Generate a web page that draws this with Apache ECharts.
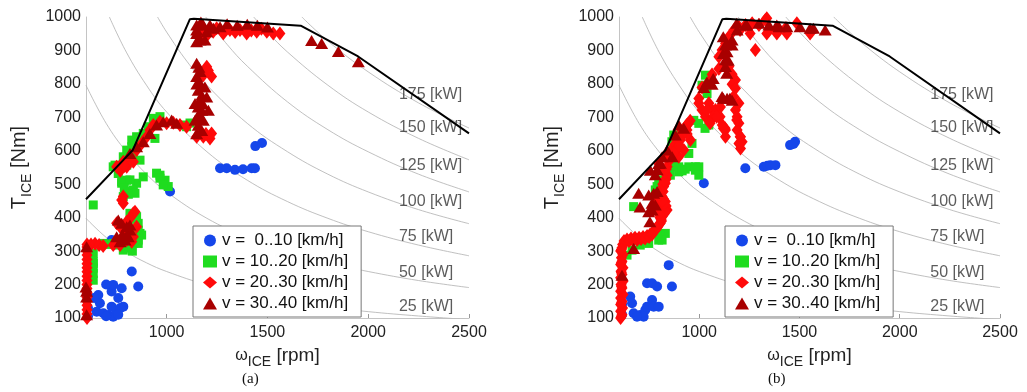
<!DOCTYPE html>
<html>
<head>
<meta charset="utf-8">
<script src="https://cdn.jsdelivr.net/npm/echarts@6/dist/echarts.min.js"></script>
<style>
  html, body { margin: 0; padding: 0; background: #fff; }
  #main { width: 1027px; height: 392px; }
</style>
</head>
<body>
<div id="main"></div>
<script>
// tick labels
var xTicks = [1000, 1500, 2000, 2500];
var seriesNames = ['v =  0..10 [km/h]', 'v = 10..20 [km/h]', 'v = 20..30 [km/h]', 'v = 30..40 [km/h]'];

// max torque curve of the engine
var maxTorque = [[600, 455], [832, 602], [1115, 993], [1135, 995], [1665, 974], [1950, 882], [2500, 652]];

// iso-power curves
var kwLevels = ['25 [kW]', '50 [kW]', '75 [kW]', '100 [kW]', '125 [kW]', '150 [kW]', '175 [kW]'];
var kwLabelNm = [133, 237, 342, 447, 557, 668, 767];
var kwLabelRpm = 2150;
var kwCurves = [
  [[600, 398], [700, 341], [800, 298], [900, 265], [1000, 239], [1200, 199], [1400, 171], [1600, 149], [1800, 133], [2000, 119], [2250, 106], [2500, 95]],
  [[600, 796], [700, 682], [800, 597], [900, 530], [1000, 477], [1200, 398], [1400, 341], [1600, 298], [1800, 265], [2000, 239], [2250, 212], [2500, 191]],
  [[716, 1000], [800, 895], [900, 796], [1000, 716], [1200, 597], [1400, 512], [1600, 448], [1800, 398], [2000, 358], [2250, 318], [2500, 286]],
  [[955, 1000], [1000, 955], [1100, 868], [1200, 796], [1400, 682], [1600, 597], [1800, 530], [2000, 477], [2250, 424], [2500, 382]],
  [[1194, 1000], [1300, 918], [1400, 853], [1600, 746], [1800, 663], [2000, 597], [2250, 530], [2500, 477]],
  [[1432, 1000], [1500, 955], [1600, 895], [1800, 796], [2000, 716], [2250, 637], [2500, 573]],
  [[1671, 1000], [1800, 928], [2000, 836], [2250, 743], [2500, 668]]
];

// (a)
var blueA = [[661, 169], [669, 144], [653, 119], [686, 114], [711, 109], [735, 104], [752, 119], [727, 134], [727, 179], [735, 199],
  [777, 189], [785, 134], [827, 239], [859, 194], [640, 160], [700, 200], [760, 160], [770, 130], [700, 105], [760, 110], [727, 333],
  [610, 105], [610, 130], [1017, 478], [1265, 548], [1298, 548], [1339, 543], [1379, 545], [1422, 548], [1438, 548], [1440, 614], [1473, 623]];
var greenA = [[636, 438], [744, 557], [802, 602], [827, 632], [851, 642], [884, 652], [942, 637], [909, 672], [934, 697], [967, 702],
  [835, 582], [868, 572], [802, 512], [777, 508], [851, 503], [827, 478], [884, 522], [785, 463], [818, 413], [851, 403], [868, 353],
  [859, 333], [835, 323], [735, 323], [686, 323], [636, 263], [636, 293], [636, 233], [636, 213], [967, 527], [992, 512], [1008, 493],
  [735, 552], [760, 532], [785, 582], [827, 612], [851, 622], [1116, 683], [1083, 677], [1099, 672], [636, 268], [636, 249], [785, 303],
  [818, 323], [859, 323], [859, 363], [859, 383], [876, 348], [843, 328], [769, 548], [802, 557], [777, 503], [818, 513], [835, 483],
  [843, 473], [950, 533], [967, 518], [983, 498], [710, 320], [760, 318], [800, 310], [830, 300], [850, 395], [810, 470], [790, 490]];
var redA = [[605, 100], [605, 112], [605, 125], [605, 138], [605, 150], [605, 162], [605, 175], [605, 188], [605, 200], [605, 212],
  [605, 225], [605, 238], [605, 250], [605, 262], [605, 275], [605, 288], [605, 300], [605, 312], [605, 320], [625, 320], [645, 322],
  [665, 318], [685, 315], [785, 463], [785, 443], [777, 453], [835, 413], [843, 418], [818, 398], [802, 388], [769, 373], [752, 383],
  [785, 363], [818, 353], [802, 333], [769, 318], [735, 318], [827, 328], [835, 343], [851, 373], [810, 373], [752, 333],
  [752, 552], [785, 567], [818, 582], [851, 602], [876, 622], [901, 642], [917, 662], [934, 677], [967, 687], [1000, 682], [1033, 684],
  [1066, 677], [1099, 672], [802, 552], [835, 567], [770, 540], [790, 555], [1149, 642], [1182, 642], [1215, 637], [1223, 652],
  [1166, 657], [1199, 851], [1223, 822], [1207, 840], [1182, 826], [1195, 650], [1231, 956], [1281, 951], [1314, 961], [1364, 961],
  [1397, 951], [1447, 956], [1497, 956], [1529, 951], [1562, 951], [1248, 966], [1181, 961], [1165, 946], [1200, 945], [1340, 955],
  [1420, 960], [1470, 965]];
var darkRedA = [[603, 313], [600, 193], [603, 163], [603, 110], [603, 180], [760, 393], [777, 383], [802, 373], [818, 363], [752, 343],
  [769, 328], [794, 333], [818, 378], [810, 343], [780, 350], [818, 592], [851, 612], [884, 627], [917, 652], [950, 677], [983, 687],
  [1025, 692], [1050, 682], [1149, 862], [1166, 837], [1149, 822], [1166, 802], [1157, 781], [1174, 766], [1166, 751], [1157, 731],
  [1174, 721], [1166, 701], [1182, 691], [1157, 676], [1174, 661], [1199, 761], [1207, 721], [1190, 791], [1141, 741], [1141, 691],
  [1149, 651], [1160, 850], [1150, 800], [1180, 740], [1160, 710], [1149, 976], [1182, 976], [1215, 976], [1149, 951], [1166, 931],
  [1190, 931], [1149, 926], [1232, 966], [1265, 971], [1149, 961], [1199, 956], [1300, 980], [1350, 975], [1400, 978], [1450, 975],
  [1500, 970], [1170, 985], [1719, 930], [1769, 921], [1852, 897], [1951, 866]];

// (b)
var blueB = [[656, 164], [665, 144], [673, 114], [706, 109], [731, 124], [740, 134], [765, 154], [773, 134], [798, 134], [740, 204],
  [765, 204], [790, 194], [848, 258], [864, 194], [723, 104], [690, 104], [615, 110], [615, 140], [1023, 503], [1230, 548], [1322, 552],
  [1340, 555], [1355, 557], [1380, 557], [1453, 617], [1478, 627], [1470, 620]];
var greenB = [[1031, 826], [1014, 796], [1039, 771], [973, 691], [998, 682], [1048, 677], [873, 647], [864, 627], [964, 622], [948, 592],
  [856, 567], [898, 552], [981, 552], [998, 552], [864, 552], [898, 537], [948, 552], [981, 542], [998, 527], [856, 527], [881, 562],
  [798, 513], [790, 493], [781, 483], [673, 433], [831, 353], [806, 348], [798, 333], [748, 323], [706, 318], [665, 303], [640, 288],
  [815, 333], [1029, 667], [930, 545], [915, 540], [805, 473], [788, 353]];
var redB = [[608, 100], [615, 110], [608, 120], [618, 130], [608, 140], [615, 150], [608, 160], [620, 170], [608, 180], [615, 190],
  [610, 200], [620, 210], [608, 220], [615, 230], [610, 240], [620, 250], [608, 260], [615, 270], [612, 280], [620, 290], [608, 300],
  [615, 310], [618, 320], [625, 330], [640, 335], [660, 338], [680, 340], [700, 340], [720, 342], [740, 345], [755, 350], [770, 358],
  [781, 363], [795, 375], [806, 383], [810, 395], [815, 403], [825, 412], [840, 423], [835, 435], [831, 448], [822, 456], [815, 463],
  [820, 478], [823, 493], [831, 503], [835, 515], [840, 527], [840, 552], [798, 562], [831, 582], [864, 597], [889, 612], [906, 632],
  [923, 652], [939, 662], [956, 632], [923, 602], [898, 582], [815, 545], [850, 570], [875, 590], [790, 420], [800, 440], [810, 430],
  [780, 460], [800, 470], [630, 325], [650, 330], [670, 332], [690, 333], [710, 336], [730, 338], [750, 342], [765, 350], [790, 370],
  [800, 380], [812, 390], [818, 410], [830, 420], [825, 440], [815, 450], [808, 470], [812, 485], [818, 500], [825, 510], [830, 535],
  [835, 545], [805, 400], [800, 410], [850, 580], [860, 600], [870, 610], [880, 620], [895, 630], [905, 645], [915, 660], [930, 670],
  [945, 680], [955, 690], [880, 600], [900, 615], [940, 650], [612, 105], [612, 145], [612, 195], [612, 235], [612, 265], [612, 305],
  [1014, 722], [1031, 702], [1056, 691], [1048, 742], [1064, 722], [1098, 702], [1131, 662], [1115, 677],
  [1081, 722], [998, 756], [1014, 789], [1048, 806], [1064, 828], [1098, 845], [1131, 856], [1148, 852], [1164, 829], [1181, 812],
  [1164, 799], [1181, 787], [1172, 762], [1198, 742], [1181, 722], [1189, 702], [1198, 682], [1189, 662], [1206, 642], [1214, 627],
  [1198, 622], [1206, 607], [1131, 642], [1106, 731], [1098, 881], [1114, 901], [1131, 921], [1148, 941], [1173, 961], [1198, 971],
  [1231, 976], [1264, 981], [1298, 976], [1330, 991], [1348, 961], [1397, 961], [1431, 966], [1280, 901], [1204, 961], [1254, 951],
  [1337, 951], [1387, 951], [1437, 951], [1553, 951], [1337, 996], [1487, 981], [1038, 722], [1071, 702], [1104, 702], [1129, 667],
  [1187, 692], [1204, 642], [1204, 622], [1054, 682], [998, 742], [938, 677], [1087, 702], [1120, 667]];
var darkRedB = [[898, 677], [923, 667], [881, 647], [840, 602], [815, 582], [865, 582], [798, 562], [1023, 789], [1064, 799], [1131, 852],
  [1114, 762], [1139, 757], [1164, 751], [1131, 872], [1139, 896], [1131, 916], [1164, 931], [1164, 916], [1189, 961], [1231, 976],
  [1298, 981], [1348, 976], [1398, 971], [1120, 941], [1137, 921], [1120, 891], [1145, 871], [1137, 832], [1070, 816], [1038, 806],
  [1120, 757], [1153, 757], [1187, 981], [1237, 976], [1387, 976], [1437, 971], [1503, 971], [1570, 966], [1628, 961], [1553, 966],
  [698, 473], [748, 468], [773, 473], [790, 478], [765, 443], [748, 418], [765, 423], [781, 438], [673, 308], [615, 228], [790, 543],
  [806, 563], [781, 528], [756, 542], [705, 432], [754, 388]];

var panels = [[blueA, greenA, redA, darkRedA], [blueB, greenB, redB, darkRedB]];
var colors = ['#1546ea', '#1fdc1f', '#ff0a0a', '#a80000'];
var symbols = ['circle', 'rect', 'diamond', 'triangle'];
var sizes = [10, 9, [11, 14], [13, 11]];

var font = 'Liberation Sans, Arial, sans-serif';
var chart = echarts.init(document.getElementById('main'));

var grids = [
  { left: 86, top: 17, width: 383, height: 301 },
  { left: 619, top: 17, width: 381, height: 301 }
];

function plain(v) { return String(v); }

function xAxis(i) {
  return {
    type: 'value', gridIndex: i, min: 600, max: 2500,
    splitLine: { show: false },
    axisLine: { lineStyle: { color: '#c4c4c4' } },
    axisTick: { inside: true, length: 4, customValues: xTicks, lineStyle: { color: '#999' } },
    axisLabel: { customValues: xTicks, formatter: plain, fontSize: 16, color: '#222', margin: 7, fontFamily: font },
    name: '{w|ω}{s|ICE}{n| [rpm]}', nameLocation: 'middle', nameGap: 24,
    nameTextStyle: {
      fontFamily: font, color: '#222',
      rich: {
        w: { fontSize: 16, fontFamily: font, color: '#222', padding: [0, 0, 6, 0], verticalAlign: 'middle' },
        s: { fontSize: 14, fontFamily: font, color: '#222', padding: [8, 0, 0, 0], verticalAlign: 'middle' },
        n: { fontSize: 19, fontFamily: font, color: '#222', padding: [0, 0, 6, 0], verticalAlign: 'middle' }
      }
    }
  };
}

function yAxis(i) {
  return {
    type: 'value', gridIndex: i, min: 100, max: 1000, interval: 100,
    splitLine: { show: false },
    axisLine: { show: true, lineStyle: { color: '#c4c4c4' } },
    axisTick: { show: false },
    axisLabel: { formatter: plain, fontSize: 16, color: '#222', margin: 5, fontFamily: font },
    name: '{t|T}{s|ICE}{t| [Nm]}', nameLocation: 'middle', nameGap: 50, nameRotate: 90,
    nameTextStyle: {
      fontFamily: font, color: '#222',
      rich: {
        t: { fontSize: 20, fontFamily: font, color: '#222', padding: [0, 0, 7, 0], verticalAlign: 'middle' },
        s: { fontSize: 14, fontFamily: font, color: '#222', padding: [9, 0, 0, 0], verticalAlign: 'middle' }
      }
    }
  };
}

var series = [];
for (var g = 0; g < 2; g++) {
  // iso-power lines
  for (var k = 0; k < kwCurves.length; k++) {
    series.push({
      type: 'line', xAxisIndex: g, yAxisIndex: g, data: kwCurves[k], smooth: 0.4,
      symbol: 'none', silent: true, z: 1,
      lineStyle: { color: '#b0b0b0', width: 0.8 }
    });
  }
  series.push({
    type: 'scatter', xAxisIndex: g, yAxisIndex: g, silent: true, symbolSize: 1, z: 1,
    itemStyle: { color: 'rgba(0,0,0,0)' },
    data: kwLevels.map(function (t, j) { return { name: t, value: [kwLabelRpm, kwLabelNm[j]] }; }),
    label: { show: true, position: 'right', distance: 0, formatter: '{b}', fontSize: 16, color: '#333', fontFamily: font }
  });
  for (var s = 0; s < 4; s++) {
    series.push({
      name: seriesNames[s], type: 'scatter', xAxisIndex: g, yAxisIndex: g,
      data: panels[g][s], symbol: symbols[s], symbolSize: sizes[s], z: 2 + s,
      itemStyle: { color: colors[s], opacity: 1 }
    });
  }
  series.push({
    type: 'line', xAxisIndex: g, yAxisIndex: g, data: maxTorque, symbol: 'none', silent: true, z: 8,
    lineStyle: { color: '#000', width: 2 }
  });
}

function legend(left) {
  return {
    data: seriesNames, orient: 'vertical', left: left, top: 226, z: 20,
    padding: [6, 13, 5, 10], itemGap: 4, itemWidth: 14, itemHeight: 12,
    backgroundColor: '#fff', borderColor: '#777', borderWidth: 1, borderRadius: 0,
    textStyle: { fontSize: 17, color: '#111', fontFamily: font }
  };
}

chart.setOption({
  animation: false,
  backgroundColor: '#fff',
  grid: grids,
  xAxis: [xAxis(0), xAxis(1)],
  yAxis: [yAxis(0), yAxis(1)],
  legend: [legend(193), legend(725)],
  graphic: [
    { type: 'text', left: 242, top: 372, style: { text: '(a)', fontSize: 15, fontFamily: 'Liberation Serif, Times New Roman, serif', fill: '#111' } },
    { type: 'text', left: 768, top: 372, style: { text: '(b)', fontSize: 15, fontFamily: 'Liberation Serif, Times New Roman, serif', fill: '#111' } }
  ],
  series: series
});
</script>
</body>
</html>
